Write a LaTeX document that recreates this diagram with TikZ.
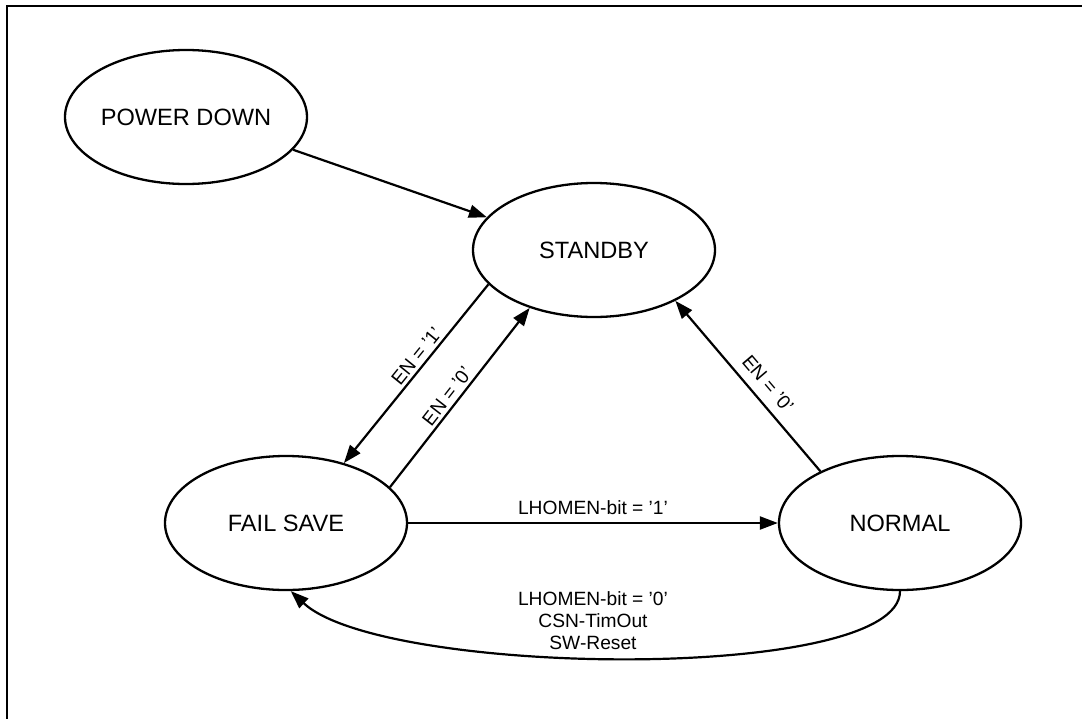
\documentclass[tikz,border=0pt]{standalone}
\usepackage{fontspec}
\setmainfont{Liberation Sans}
\usetikzlibrary{shapes.geometric,arrows.meta}
\begin{document}
\begin{tikzpicture}[x=0.5pt,y=-0.5pt,
  state/.style={ellipse, draw, line width=1.15pt, minimum width=121pt, minimum height=67pt, inner sep=0pt, font=\fontsize{11.8pt}{14pt}\selectfont},
  conn/.style={line width=1.1pt, -{Triangle[length=9pt,width=6.5pt]}},
  elabel/.style={font=\fontsize{9.6pt}{11pt}\selectfont, inner sep=1.5pt},
  frame/.style={line width=1.2pt}
]
\useasboundingbox (0,0) rectangle (1082,718);
\draw[frame] (1090,6) -- (7,6) -- (7,726);

\node[state] (pd) at (186,117) {POWER DOWN};
\node[state] (sb) at (594,250) {STANDBY};
\node[state] (fs) at (286,523) {FAIL SAVE};
\node[state] (nm) at (900,523) {NORMAL};

\draw[conn] (pd.-17) -- (sb.163);
\draw[conn] (sb.198) -- node[elabel, sloped, above, pos=0.44] {EN = ’1’} (fs.46);
\draw[conn] (fs.19) -- node[elabel, sloped, above, pos=0.47] {EN = ’0’} (sb.222);
\draw[conn] (nm.147) -- node[elabel, sloped, above, pos=0.45, inner ysep=4.5pt] {EN = ’0’} (sb.-32);
\draw[conn] (fs.east) -- node[elabel, above=2pt] {LHOMEN-bit = ’1’} (nm.west);
\draw[conn] (nm.south) .. controls +(0,92) and +(92,86) .. (fs.-86);
\node[elabel, align=center, inner sep=0pt] (lb) at (593,621) {LHOMEN-bit = ’0’\\CSN-TimOut\\SW-Reset};
\end{tikzpicture}
\end{document}
